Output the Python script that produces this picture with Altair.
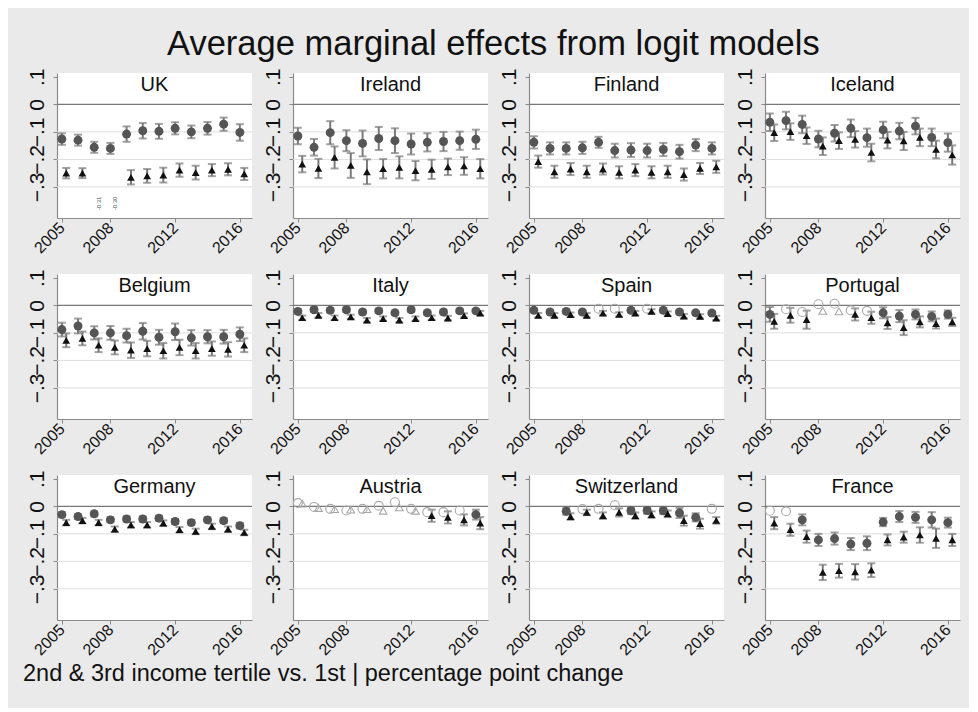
import altair as alt
import pandas as pd

YEARS = list(range(2005, 2017))
COUNTRIES = ["UK", "Ireland", "Finland", "Iceland",
             "Belgium", "Italy", "Spain", "Portugal",
             "Germany", "Austria", "Switzerland", "France"]

# 2nd income tertile vs. 1st (circles)
EST2 = {
    "UK":          [-0.126, -0.130, -0.156, -0.160, -0.108, -0.096, -0.098, -0.087, -0.100, -0.087, -0.072, -0.102],
    "Ireland":     [-0.115, -0.156, -0.103, -0.132, -0.142, -0.124, -0.132, -0.144, -0.138, -0.135, -0.132, -0.127],
    "Finland":     [-0.138, -0.160, -0.160, -0.158, -0.138, -0.168, -0.166, -0.168, -0.164, -0.172, -0.148, -0.160],
    "Iceland":     [-0.065, -0.059, -0.073, -0.126, -0.105, -0.087, -0.121, -0.093, -0.097, -0.079, -0.120, -0.139],
    "Belgium":     [-0.088, -0.075, -0.100, -0.100, -0.110, -0.094, -0.116, -0.096, -0.118, -0.114, -0.114, -0.105],
    "Italy":       [-0.022, -0.016, -0.018, -0.016, -0.024, -0.020, -0.027, -0.016, -0.027, -0.024, -0.020, -0.020],
    "Spain":       [-0.018, -0.024, -0.022, -0.024, -0.012, -0.012, -0.018, -0.012, -0.018, -0.024, -0.027, -0.028],
    "Portugal":    [-0.033, -0.014, -0.024, 0.004, 0.006, -0.018, -0.020, -0.027, -0.039, -0.033, -0.040, -0.033],
    "Germany":     [-0.030, -0.037, -0.027, -0.049, -0.046, -0.046, -0.043, -0.055, -0.059, -0.049, -0.052, -0.070],
    "Austria":     [0.012, -0.002, -0.009, -0.015, -0.009, 0.002, 0.015, -0.009, -0.021, -0.021, -0.015, -0.030],
    "Switzerland": [None, None, -0.018, -0.010, -0.009, 0.004, -0.016, -0.015, -0.016, -0.024, -0.040, -0.009],
    "France":      [-0.016, -0.018, -0.049, -0.122, -0.117, -0.137, -0.134, -0.057, -0.037, -0.040, -0.049, -0.059],
}
HW2 = {
    "UK":          [0.021, 0.020, 0.020, 0.020, 0.028, 0.028, 0.027, 0.022, 0.023, 0.023, 0.024, 0.030],
    "Ireland":     [0.030, 0.030, 0.042, 0.038, 0.047, 0.042, 0.045, 0.038, 0.033, 0.035, 0.033, 0.035],
    "Finland":     [0.022, 0.022, 0.022, 0.022, 0.020, 0.025, 0.025, 0.025, 0.024, 0.025, 0.022, 0.022],
    "Iceland":     [0.032, 0.032, 0.032, 0.030, 0.030, 0.032, 0.033, 0.030, 0.030, 0.030, 0.032, 0.033],
    "Belgium":     [0.025, 0.027, 0.024, 0.025, 0.025, 0.030, 0.027, 0.030, 0.028, 0.024, 0.025, 0.025],
    "Italy":       [0.008, 0.008, 0.008, 0.008, 0.008, 0.008, 0.008, 0.008, 0.008, 0.008, 0.008, 0.006],
    "Spain":       [0.007, 0.007, 0.007, 0.007, 0.0, 0.0, 0.007, 0.0, 0.007, 0.007, 0.007, 0.007],
    "Portugal":    [0.027, 0.0, 0.0, 0.0, 0.0, 0.0, 0.0, 0.020, 0.022, 0.018, 0.018, 0.015],
    "Germany":     [0.009, 0.009, 0.009, 0.009, 0.009, 0.009, 0.009, 0.009, 0.009, 0.009, 0.009, 0.010],
    "Austria":     [0.0, 0.0, 0.0, 0.0, 0.0, 0.0, 0.0, 0.0, 0.0, 0.0, 0.0, 0.018],
    "Switzerland": [0.0, 0.0, 0.012, 0.0, 0.0, 0.0, 0.012, 0.012, 0.012, 0.018, 0.015, 0.0],
    "France":      [0.0, 0.0, 0.020, 0.022, 0.022, 0.022, 0.025, 0.015, 0.020, 0.020, 0.028, 0.018],
}
SIG2 = {
    "UK": [1] * 12, "Ireland": [1] * 12, "Finland": [1] * 12, "Iceland": [1] * 12,
    "Belgium": [1] * 12, "Italy": [1] * 12,
    "Spain":       [1, 1, 1, 1, 0, 0, 1, 0, 1, 1, 1, 1],
    "Portugal":    [1, 0, 0, 0, 0, 0, 0, 1, 1, 1, 1, 1],
    "Germany": [1] * 12,
    "Austria":     [0, 0, 0, 0, 0, 0, 0, 0, 0, 0, 0, 1],
    "Switzerland": [0, 0, 1, 0, 0, 0, 1, 1, 1, 1, 1, 0],
    "France":      [0, 0, 1, 1, 1, 1, 1, 1, 1, 1, 1, 1],
}

# 3rd income tertile vs. 1st (triangles)
EST3 = {
    "UK":          [-0.250, -0.250, None, None, -0.265, -0.260, -0.257, -0.239, -0.248, -0.239, -0.236, -0.253],
    "Ireland":     [-0.217, -0.233, -0.193, -0.222, -0.245, -0.234, -0.229, -0.241, -0.236, -0.227, -0.224, -0.234],
    "Finland":     [-0.208, -0.245, -0.235, -0.245, -0.235, -0.247, -0.239, -0.247, -0.245, -0.255, -0.233, -0.227],
    "Iceland":     [-0.103, -0.099, -0.114, -0.152, -0.132, -0.127, -0.175, -0.130, -0.133, -0.120, -0.164, -0.184],
    "Belgium":     [-0.127, -0.120, -0.145, -0.153, -0.163, -0.157, -0.165, -0.153, -0.165, -0.157, -0.160, -0.145],
    "Italy":       [-0.045, -0.036, -0.045, -0.042, -0.054, -0.048, -0.054, -0.048, -0.045, -0.046, -0.037, -0.028],
    "Spain":       [-0.036, -0.036, -0.034, -0.036, -0.028, -0.033, -0.028, -0.022, -0.030, -0.039, -0.040, -0.046],
    "Portugal":    [-0.058, -0.036, -0.052, -0.020, -0.022, -0.033, -0.045, -0.064, -0.081, -0.060, -0.066, -0.060],
    "Germany":     [-0.059, -0.052, -0.059, -0.083, -0.067, -0.067, -0.061, -0.085, -0.091, -0.073, -0.083, -0.095],
    "Austria":     [0.010, -0.006, -0.010, -0.012, -0.010, -0.016, -0.004, -0.016, -0.034, -0.040, -0.049, -0.061],
    "Switzerland": [None, None, -0.037, -0.022, -0.034, -0.022, -0.034, -0.030, -0.027, -0.052, -0.063, -0.051],
    "France":      [-0.061, -0.085, -0.110, -0.240, -0.234, -0.238, -0.232, -0.122, -0.112, -0.104, -0.116, -0.122],
}
HW3 = {
    "UK":          [0.019, 0.018, 0.0, 0.0, 0.026, 0.025, 0.027, 0.024, 0.025, 0.022, 0.022, 0.022],
    "Ireland":     [0.030, 0.035, 0.040, 0.045, 0.045, 0.035, 0.040, 0.035, 0.035, 0.030, 0.032, 0.035],
    "Finland":     [0.022, 0.022, 0.022, 0.022, 0.020, 0.022, 0.022, 0.022, 0.022, 0.022, 0.020, 0.022],
    "Iceland":     [0.030, 0.030, 0.030, 0.032, 0.030, 0.030, 0.032, 0.030, 0.033, 0.032, 0.032, 0.035],
    "Belgium":     [0.025, 0.025, 0.025, 0.025, 0.028, 0.028, 0.028, 0.028, 0.028, 0.026, 0.026, 0.025],
    "Italy":       [0.008] * 12,
    "Spain":       [0.008] * 12,
    "Portugal":    [0.027, 0.027, 0.033, 0.0, 0.0, 0.022, 0.022, 0.022, 0.027, 0.020, 0.018, 0.015],
    "Germany":     [0.010] * 12,
    "Austria":     [0.0, 0.0, 0.0, 0.0, 0.0, 0.0, 0.0, 0.0, 0.022, 0.022, 0.020, 0.022],
    "Switzerland": [0.0, 0.0, 0.012, 0.010, 0.012, 0.015, 0.012, 0.012, 0.012, 0.018, 0.018, 0.012],
    "France":      [0.022, 0.022, 0.022, 0.028, 0.025, 0.028, 0.025, 0.020, 0.020, 0.028, 0.035, 0.022],
}
SIG3 = {
    "UK": [1] * 12, "Ireland": [1] * 12, "Finland": [1] * 12, "Iceland": [1] * 12,
    "Belgium": [1] * 12, "Italy": [1] * 12, "Spain": [1] * 12,
    "Portugal":    [1, 1, 1, 0, 0, 1, 1, 1, 1, 1, 1, 1],
    "Germany": [1] * 12,
    "Austria":     [0, 0, 0, 0, 0, 0, 0, 0, 1, 1, 1, 1],
    "Switzerland": [1] * 12,
    "France": [1] * 12,
}

# Off-scale values noted as small labels
OFF_COUNTRY = ["UK", "UK"]
OFF_YEAR = [2007, 2008]
OFF_TEXT = ["-0.31", "-0.30"]

Y_TICKS = [0.1, 0.0, -0.1, -0.2, -0.3]
GRID = [-0.1, -0.2, -0.3]
X_TICKS = [2005, 2008, 2012, 2016]

FONT = "Liberation Sans"
SHIFT = {"2nd": 0.0, "3rd": 0.27}

rows = []
for c in COUNTRIES:
    for i, yr in enumerate(YEARS):
        for s, est, hw, sig in (("2nd", EST2, HW2, SIG2), ("3rd", EST3, HW3, SIG3)):
            v = est[c][i]
            if v is None:
                continue
            rows.append(dict(country=c, year=yr, x=yr + SHIFT[s], series=s,
                             est=v, lo=v - hw[c][i], hi=v + hw[c][i], sig=sig[c][i]))
df = pd.DataFrame(rows)
off_df = pd.DataFrame({"country": OFF_COUNTRY, "x": [y + SHIFT["3rd"] for y in OFF_YEAR],
                       "label": OFF_TEXT, "y": [-0.36] * len(OFF_TEXT)})

W, H = 195, 145
xscale = alt.Scale(domain=[2004.7, 2016.75], nice=False, zero=False)
yscale = alt.Scale(domain=[-0.413, 0.114], nice=False, zero=False)

xaxis = alt.Axis(values=X_TICKS, format="d", labelAngle=315, labelAlign="right",
                 labelBaseline="middle", labelFontSize=16, labelPadding=3,
                 labelOverlap=False, labelFlush=False,
                 title=None, grid=False, tickSize=4)
yaxis = alt.Axis(values=Y_TICKS, labelAngle=270, labelAlign="center",
                 labelBaseline="bottom", labelFontSize=21, labelPadding=6,
                 labelOverlap=False, labelFlush=False,
                 labelExpr="datum.value == 0 ? '0' : replace(format(datum.value, '.1f'), '0.', '.')",
                 title=None, grid=False, tickSize=4)

shape_scale = alt.Scale(domain=["2nd", "3rd"], range=["circle", "triangle-up"])
color_scale = alt.Scale(domain=["2nd", "3rd"], range=["#555555", "#111111"])
size_scale = alt.Scale(domain=["2nd", "3rd"], range=[80, 60])


def panel(c):
    d = df[df.country == c]
    sig_d = d[d.sig == 1]
    ns_d = d[d.sig == 0]
    X = alt.X("x:Q", scale=xscale, axis=xaxis)

    grid = alt.Chart(pd.DataFrame({"v": GRID})).mark_rule(color="#dedede", strokeWidth=1).encode(
        y=alt.Y("v:Q", scale=yscale, axis=yaxis))
    zero = alt.Chart(pd.DataFrame({"v": [0.0]})).mark_rule(color="#777777", strokeWidth=1.3).encode(
        y=alt.Y("v:Q", scale=yscale, axis=yaxis))
    bars = alt.Chart(sig_d).mark_rule(color="#7a7a7a", strokeWidth=2).encode(
        x=X, y=alt.Y("lo:Q", scale=yscale, axis=yaxis), y2="hi:Q")
    cap_lo = alt.Chart(sig_d).mark_tick(color="#7a7a7a", orient="horizontal", size=8, thickness=2).encode(
        x=X, y=alt.Y("lo:Q", scale=yscale, axis=yaxis))
    cap_hi = alt.Chart(sig_d).mark_tick(color="#7a7a7a", orient="horizontal", size=8, thickness=2).encode(
        x=X, y=alt.Y("hi:Q", scale=yscale, axis=yaxis))
    pts = alt.Chart(sig_d).mark_point(filled=True, opacity=1).encode(
        x=X, y=alt.Y("est:Q", scale=yscale, axis=yaxis),
        shape=alt.Shape("series:N", scale=shape_scale, legend=None),
        color=alt.Color("series:N", scale=color_scale, legend=None),
        size=alt.Size("series:N", scale=size_scale, legend=None))
    hollow = alt.Chart(ns_d).mark_point(filled=False, color="#a8a8a8", strokeWidth=1.1, opacity=1).encode(
        x=X, y=alt.Y("est:Q", scale=yscale, axis=yaxis),
        shape=alt.Shape("series:N", scale=shape_scale, legend=None),
        size=alt.Size("series:N", scale=size_scale, legend=None))
    title = alt.Chart(pd.DataFrame({"t": [c]})).mark_text(
        font=FONT, fontSize=20, color="#111111", baseline="middle", align="center").encode(
        x=alt.value(W / 2), y=alt.value(12), text="t:N")

    layers = [grid, zero, bars, cap_lo, cap_hi, hollow, pts, title]
    od = off_df[off_df.country == c]
    if len(od):
        layers.append(alt.Chart(od).mark_text(font=FONT, fontSize=6, angle=270, color="#555555").encode(
            x=X, y=alt.Y("y:Q", scale=yscale, axis=yaxis), text="label:N"))
    return alt.layer(*layers).properties(width=W, height=H)


panels = [panel(c) for c in COUNTRIES]
row1 = alt.hconcat(*panels[0:4], spacing=9,
                   title=alt.Title("Average marginal effects from logit models", fontSize=34.5,
                                   font=FONT, fontWeight="normal", color="#111111",
                                   anchor="middle", offset=6))
row2 = alt.hconcat(*panels[4:8], spacing=9)
row3 = alt.hconcat(*panels[8:12], spacing=9)

chart = alt.vconcat(row1, row2, row3, spacing=13,
                    title=alt.Title("2nd & 3rd income tertile vs. 1st | percentage point change",
                                    orient="bottom", anchor="start", fontSize=23.5, font=FONT,
                                    fontWeight="normal", color="#111111", offset=4, dx=-3)
                    ).properties(
    background="#eaeaea",
    padding={"left": 15, "top": 18, "right": 8, "bottom": 22},
).configure_view(fill="white", stroke=None).configure_axis(
    labelFont=FONT, labelColor="#111111", domainColor="#8a8a8a", tickColor="#8a8a8a",
    domainWidth=1.2,
).configure_concat(spacing=9)

chart.save("out.html", embed_options={"renderer": "svg", "actions": False})
